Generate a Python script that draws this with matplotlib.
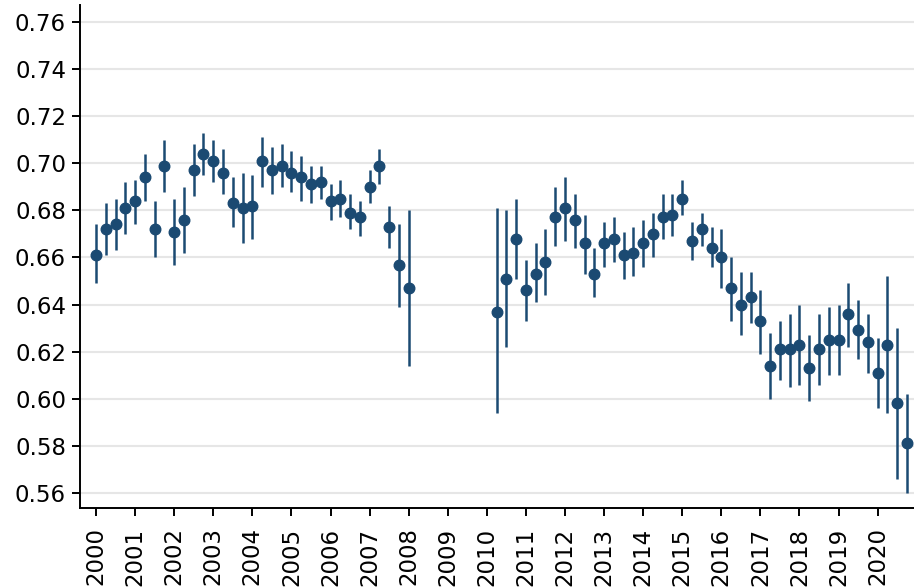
import numpy as np
import matplotlib
matplotlib.use("Agg")
import matplotlib.pyplot as plt

# Quarterly estimates with 95% confidence bounds
quarters_a = np.arange(2000.0, 2008.0 + 0.01, 0.25)          # 2000Q1 .. 2008Q1
est_a = [0.661, 0.672, 0.674, 0.681, 0.684, 0.694, 0.672, 0.699,
         0.671, 0.676, 0.697, 0.704, 0.701, 0.696, 0.683, 0.681,
         0.682, 0.701, 0.697, 0.699, 0.696, 0.694, 0.691, 0.692,
         0.684, 0.685, 0.679, 0.677, 0.690, 0.699, 0.673, 0.657,
         0.647]
lo_a = [0.649, 0.661, 0.663, 0.670, 0.674, 0.684, 0.660, 0.688,
        0.657, 0.662, 0.686, 0.695, 0.692, 0.687, 0.673, 0.666,
        0.668, 0.690, 0.687, 0.690, 0.688, 0.684, 0.683, 0.685,
        0.676, 0.677, 0.672, 0.669, 0.683, 0.691, 0.664, 0.639,
        0.614]
hi_a = [0.674, 0.683, 0.685, 0.692, 0.693, 0.704, 0.684, 0.710,
        0.685, 0.690, 0.708, 0.713, 0.710, 0.706, 0.694, 0.696,
        0.695, 0.711, 0.707, 0.708, 0.705, 0.703, 0.699, 0.699,
        0.691, 0.693, 0.687, 0.684, 0.697, 0.706, 0.682, 0.674,
        0.680]

quarters_b = np.arange(2010.25, 2020.75 + 0.01, 0.25)        # 2010Q2 .. 2020Q4
est_b = [0.637, 0.651, 0.668, 0.646, 0.653, 0.658, 0.677, 0.681,
         0.676, 0.666, 0.653, 0.666, 0.668, 0.661, 0.662, 0.666,
         0.670, 0.677, 0.678, 0.685, 0.667, 0.672, 0.664, 0.660,
         0.647, 0.640, 0.643, 0.633, 0.614, 0.621, 0.621, 0.623,
         0.613, 0.621, 0.625, 0.625, 0.636, 0.629, 0.624, 0.611,
         0.623, 0.598, 0.581]
lo_b = [0.594, 0.622, 0.651, 0.633, 0.641, 0.644, 0.665, 0.667,
        0.664, 0.653, 0.643, 0.656, 0.658, 0.651, 0.652, 0.656,
        0.660, 0.668, 0.669, 0.678, 0.659, 0.665, 0.656, 0.647,
        0.633, 0.627, 0.632, 0.619, 0.600, 0.608, 0.605, 0.606,
        0.599, 0.606, 0.610, 0.610, 0.622, 0.617, 0.611, 0.596,
        0.594, 0.566, 0.560]
hi_b = [0.681, 0.680, 0.685, 0.659, 0.666, 0.672, 0.690, 0.694,
        0.687, 0.678, 0.664, 0.675, 0.677, 0.671, 0.673, 0.676,
        0.679, 0.687, 0.687, 0.693, 0.675, 0.679, 0.673, 0.672,
        0.660, 0.654, 0.654, 0.646, 0.628, 0.633, 0.636, 0.640,
        0.627, 0.636, 0.639, 0.640, 0.649, 0.642, 0.636, 0.626,
        0.652, 0.630, 0.602]

year_ticks = list(range(2000, 2021))
y_ticks = [0.56, 0.58, 0.60, 0.62, 0.64, 0.66, 0.68, 0.70, 0.72, 0.74, 0.76]

color = "#1b4a72"
fs = 16.5

fig = plt.figure(figsize=(9.14, 5.87), dpi=100)
ax = fig.add_axes([80 / 914, 79 / 587, 834 / 914, 503 / 587])

for x, m, lo, hi in [(quarters_a, est_a, lo_a, hi_a), (quarters_b, est_b, lo_b, hi_b)]:
    m = np.asarray(m)
    yerr = [m - np.asarray(lo), np.asarray(hi) - m]
    ax.errorbar(x, m, yerr=yerr, fmt="o", color=color, ecolor=color,
                elinewidth=1.8, markersize=7.6, capsize=0, zorder=3)

ax.set_xlim(1999.59, 2020.93)
ax.set_ylim(0.5536, 0.7672)
ax.set_yticks(y_ticks)
ax.set_yticklabels([f"{v:.2f}" for v in y_ticks], fontsize=fs)
ax.set_xticks(year_ticks)
ax.set_xticklabels([str(y) for y in year_ticks], rotation=90, fontsize=fs)

ax.grid(axis="y", color="#e6e6e6", linewidth=1.5, zorder=0)
ax.grid(axis="x", visible=False)
ax.set_axisbelow(True)

for side in ("top", "right"):
    ax.spines[side].set_visible(False)
for side in ("left", "bottom"):
    ax.spines[side].set_linewidth(1.4)
    ax.spines[side].set_color("black")
ax.tick_params(axis="both", length=6, width=1.4, color="black", pad=4)
ax.tick_params(axis="x", pad=8)

fig.savefig("out.png", dpi=100)
